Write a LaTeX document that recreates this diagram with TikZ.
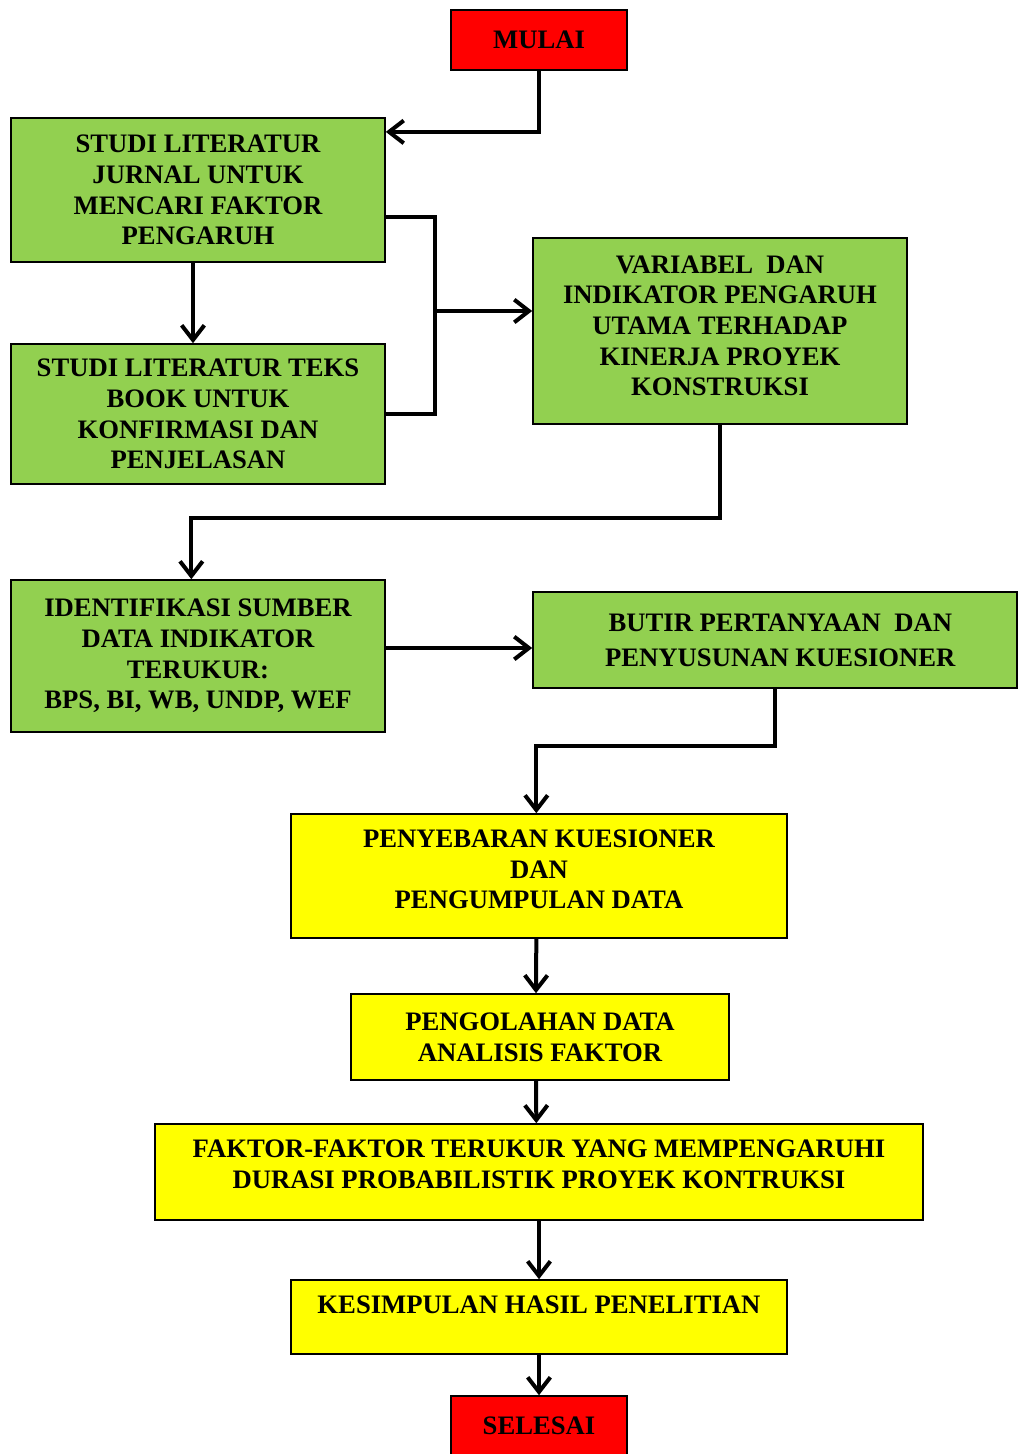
\documentclass[tikz,border=0pt]{standalone}
\usepackage{fontspec}
\setmainfont{Liberation Serif}
\usetikzlibrary{arrows.meta}
\definecolor{hijau}{HTML}{92D050}
\definecolor{kuning}{HTML}{FFFF00}
\definecolor{merah}{HTML}{FF0000}
\tikzset{
  kotak/.style={draw=black, line width=1.2pt, inner sep=0pt, align=center,
    font=\bfseries\fontsize{20}{23}\selectfont},
  kotakhijau/.style={kotak, fill=hijau},
  kotakkuning/.style={kotak, fill=kuning},
  kotakmerah/.style={kotak, fill=merah},
  garis/.style={line width=3pt},
  panah/.style={garis, -{Straight Barb[length=11pt,width=17pt,line width=3pt]}}
}

\begin{document}
\begin{tikzpicture}[x=0.75pt, y=-0.75pt]
	\useasboundingbox (0,0) rectangle (1018,1454);
	
	\node[kotakmerah, minimum width=132pt, minimum height=45pt] (mulai) at (539,40) {MULAI};
	
	\node[kotakhijau, minimum width=280.5pt, minimum height=108pt] (jurnal) at (198,190)
		{STUDI LITERATUR\\JURNAL UNTUK\\MENCARI FAKTOR\\PENGARUH};
	\node[kotakhijau, minimum width=280.5pt, minimum height=105pt] (teks) at (198,414)
		{STUDI LITERATUR TEKS\\BOOK UNTUK\\KONFIRMASI DAN\\PENJELASAN};
	\node[kotakhijau, minimum width=280.5pt, minimum height=139.5pt, text depth=8pt] (variabel) at (720,331)
		{VARIABEL\ \ DAN\\INDIKATOR PENGARUH\\UTAMA TERHADAP\\KINERJA PROYEK\\KONSTRUKSI};
	\node[kotakhijau, minimum width=280.5pt, minimum height=114pt] (identifikasi) at (198,656)
		{IDENTIFIKASI SUMBER\\DATA INDIKATOR\\TERUKUR:\\BPS, BI, WB, UNDP, WEF};
	\node[kotakhijau, minimum width=363pt, minimum height=72pt, align=center,
		font=\bfseries\fontsize{20}{26}\selectfont] (butir) at (775,640)
		{\hspace*{8pt}BUTIR PERTANYAAN\ \ DAN\\\hspace*{8pt}PENYUSUNAN KUESIONER};
	
	\node[kotakkuning, minimum width=372pt, minimum height=93pt, text depth=10pt] (sebar) at (539,876)
		{PENYEBARAN KUESIONER\\DAN\\PENGUMPULAN DATA};
	\node[kotakkuning, minimum width=283.5pt, minimum height=64.5pt] (olah) at (540,1037)
		{PENGOLAHAN DATA\\ANALISIS FAKTOR};
	\node[kotakkuning, minimum width=576pt, minimum height=72pt, text depth=12pt] (faktor) at (539,1172)
		{FAKTOR-FAKTOR TERUKUR YANG MEMPENGARUHI\\DURASI PROBABILISTIK PROYEK KONTRUKSI};
	\node[kotakkuning, minimum width=372pt, minimum height=55.5pt, text depth=18pt] (simpul) at (539,1317)
		{KESIMPULAN HASIL PENELITIAN};
	
	\node[kotakmerah, minimum width=132pt, minimum height=45pt] (selesai) at (539,1426) {SELESAI};
	
	% panah
	\draw[panah] (mulai.south) |- ([yshift=-11pt]jurnal.north east);
	\draw[panah] (jurnal.south -| 193,0) -- (teks.north -| 193,0);
	\coordinate (gabung) at (435,311);
	\draw[garis] ([yshift=-20pt]jurnal.east) -| (gabung) |- (teks.east);
	\draw[panah] (gabung) -- (gabung -| variabel.west);
	\draw[panah] (variabel.south) -- ++(0,93) -| ([xshift=-5pt]identifikasi.north);
	\draw[panah] ([yshift=6pt]identifikasi.east) -- ([yshift=6pt]identifikasi.east -| butir.west);
	\draw[panah] (butir.south) -- ++(0,57) -| ([xshift=-2pt]sebar.north);
	\draw[panah] ([xshift=-2pt]sebar.south) -- ([xshift=-3pt]olah.north);
	\draw[panah] ([xshift=-3pt]olah.south) -- ([xshift=-2pt]faktor.north);
	\draw[panah] (faktor.south) -- (simpul.north);
	\draw[panah] (simpul.south) -- (selesai.north);
\end{tikzpicture}
\end{document}
